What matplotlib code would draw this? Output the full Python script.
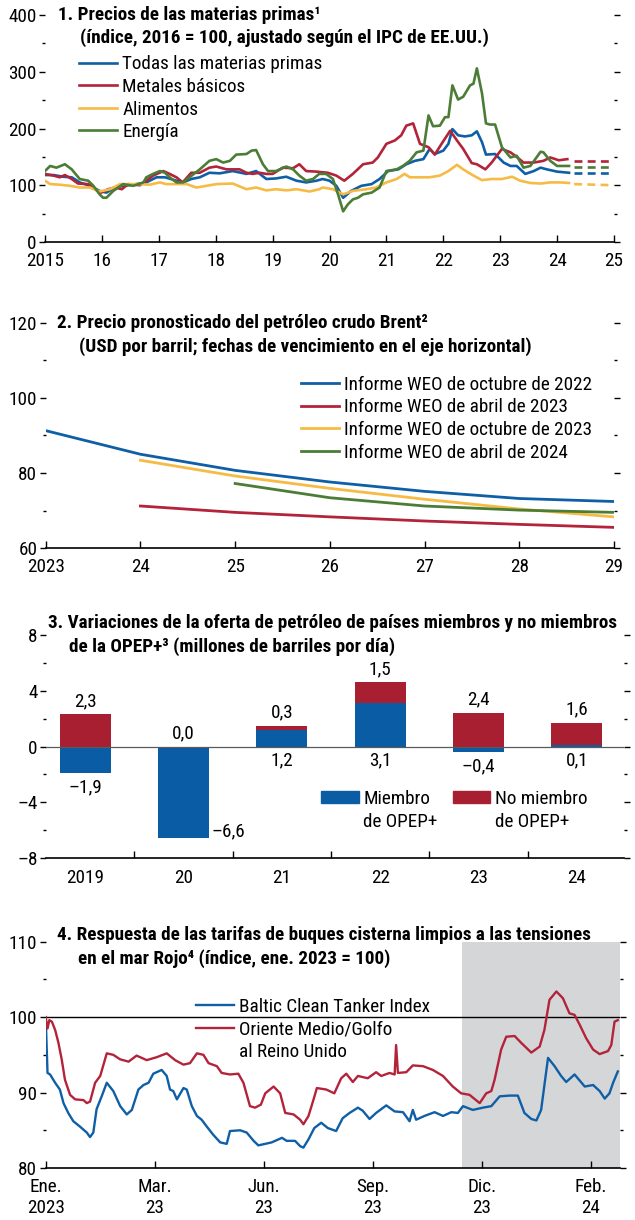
import matplotlib
matplotlib.use("Agg")
import matplotlib.pyplot as plt
from matplotlib import font_manager
from matplotlib.lines import Line2D
from matplotlib.patches import Rectangle

# ---- panel 1: commodity prices (index, 2016 = 100)
energy_x = [2015.0, 2015.09, 2015.2, 2015.35, 2015.47, 2015.61, 2015.76, 2015.85, 2015.96, 2016.02, 2016.08,
            2016.2, 2016.37, 2016.55, 2016.73, 2016.78, 2016.9, 2017.02, 2017.11, 2017.19, 2017.31, 2017.43,
            2017.54, 2017.72, 2017.89, 2018.01, 2018.13, 2018.25, 2018.36, 2018.54, 2018.63, 2018.71, 2018.83,
            2018.92, 2019.06, 2019.24, 2019.36, 2019.47, 2019.59, 2019.71, 2019.82, 2019.94, 2020.06, 2020.15,
            2020.24, 2020.32, 2020.41, 2020.5, 2020.59, 2020.74, 2020.88, 2021.0, 2021.18, 2021.29, 2021.41,
            2021.53, 2021.65, 2021.74, 2021.82, 2021.94, 2022.03, 2022.09, 2022.16, 2022.26, 2022.35, 2022.47,
            2022.53, 2022.59, 2022.68, 2022.75, 2022.82, 2022.91, 2023.03, 2023.18, 2023.29, 2023.41, 2023.53,
            2023.71, 2023.76, 2023.88, 2024.0, 2024.21]
energy = [125, 134, 131, 137, 128, 111, 108, 99, 84, 78, 78, 90, 102, 99, 105, 114, 120, 125, 122, 114, 105, 105,
          114, 128, 143, 146, 140, 143, 154, 155, 161, 162, 137, 125, 125, 133, 128, 117, 108, 111, 120, 120, 111,
          84, 54, 66, 75, 78, 84, 87, 96, 125, 128, 134, 143, 158, 161, 223, 204, 205, 220, 220, 276, 251, 256,
          276, 279, 306, 262, 209, 207, 207, 167, 149, 152, 131, 134, 159, 158, 143, 134, 134]

metals_x = [2015.0, 2015.15, 2015.26, 2015.35, 2015.47, 2015.58, 2015.76, 2015.88, 2015.99, 2016.11, 2016.23,
            2016.35, 2016.46, 2016.67, 2016.78, 2016.9, 2017.08, 2017.19, 2017.31, 2017.42, 2017.57, 2017.72,
            2017.89, 2018.01, 2018.19, 2018.42, 2018.54, 2018.65, 2018.77, 2018.89, 2019.0, 2019.18, 2019.36,
            2019.47, 2019.59, 2019.77, 2019.97, 2020.12, 2020.26, 2020.41, 2020.59, 2020.76, 2020.85, 2021.0,
            2021.15, 2021.26, 2021.35, 2021.47, 2021.59, 2021.74, 2021.85, 2021.97, 2022.12, 2022.24, 2022.35,
            2022.5, 2022.59, 2022.74, 2022.85, 2023.03, 2023.18, 2023.29, 2023.41, 2023.59, 2023.76, 2023.88,
            2024.03, 2024.18]
metals = [120, 117, 114, 118, 111, 103, 102, 93, 87, 93, 96, 93, 102, 100, 108, 117, 125, 120, 114, 105, 122, 122,
          131, 133, 128, 128, 122, 120, 122, 120, 120, 131, 130, 137, 125, 124, 122, 117, 108, 120, 137, 140, 149,
          173, 179, 188, 205, 209, 173, 167, 154, 173, 196, 179, 164, 139, 137, 128, 140, 164, 158, 150, 140, 140,
          143, 149, 144, 146]

all_x = [2015.0, 2015.15, 2015.32, 2015.47, 2015.61, 2015.79, 2015.96, 2016.08, 2016.23, 2016.37, 2016.55,
         2016.78, 2016.96, 2017.11, 2017.31, 2017.43, 2017.57, 2017.72, 2017.89, 2018.07, 2018.3, 2018.54,
         2018.71, 2018.89, 2019.06, 2019.24, 2019.42, 2019.59, 2019.77, 2019.88, 2020.0, 2020.12, 2020.24,
         2020.38, 2020.56, 2020.74, 2020.88, 2021.03, 2021.21, 2021.35, 2021.5, 2021.65, 2021.76, 2021.85,
         2022.0, 2022.09, 2022.16, 2022.26, 2022.38, 2022.5, 2022.59, 2022.68, 2022.75, 2022.91, 2023.06,
         2023.18, 2023.29, 2023.44, 2023.59, 2023.71, 2023.82, 2024.0, 2024.21]
all_comm = [118, 118, 115, 114, 105, 99, 90, 87, 96, 99, 101, 105, 114, 114, 108, 105, 111, 114, 122, 121, 125, 120,
            125, 111, 112, 115, 108, 105, 108, 111, 108, 99, 78, 90, 99, 102, 111, 125, 128, 137, 143, 146, 164,
            155, 161, 173, 199, 188, 186, 188, 195, 176, 154, 155, 140, 134, 134, 120, 125, 131, 128, 124, 122]

food_x = [2015.0, 2015.09, 2015.26, 2015.44, 2015.61, 2015.79, 2015.96, 2016.14, 2016.32, 2016.49, 2016.67,
          2016.84, 2017.02, 2017.13, 2017.31, 2017.49, 2017.66, 2017.84, 2018.01, 2018.3, 2018.54, 2018.71,
          2018.89, 2019.06, 2019.24, 2019.42, 2019.65, 2019.82, 2019.88, 2020.06, 2020.24, 2020.41, 2020.65,
          2020.82, 2021.0, 2021.18, 2021.32, 2021.41, 2021.59, 2021.76, 2021.94, 2022.09, 2022.24, 2022.35,
          2022.53, 2022.68, 2022.85, 2023.03, 2023.21, 2023.35, 2023.53, 2023.71, 2023.88, 2024.06, 2024.21]
food = [108, 102, 101, 99, 96, 96, 89, 93, 102, 102, 102, 101, 105, 102, 102, 102, 96, 99, 102, 103, 93, 96, 91, 93,
        91, 93, 89, 93, 96, 93, 84, 90, 93, 96, 105, 111, 120, 114, 114, 114, 117, 125, 136, 128, 117, 109, 111, 111,
        115, 108, 104, 103, 105, 105, 104]

proj_x = [2024.3, 2025.0]
all_proj = [122, 122]
metals_proj = [143, 143]
food_proj = [102, 100]
energy_proj = [133, 133]

p1_years = [2015, 2016, 2017, 2018, 2019, 2020, 2021, 2022, 2023, 2024, 2025]
p1_labels = ["2015", "16", "17", "18", "19", "20", "21", "22", "23", "24", "25"]

# ---- panel 2: Brent futures curves (USD per barrel)
brent_years = [2023, 2024, 2025, 2026, 2027, 2028, 2029]
weo_oct22 = [91.3, 85.0, 80.7, 77.6, 75.1, 73.2, 72.4]
weo_apr23 = [None, 71.2, 69.5, 68.3, 67.2, 66.3, 65.5]
weo_oct23 = [None, 83.4, 79.2, 75.9, 73.0, 70.4, 68.3]
weo_apr24 = [None, None, 77.2, 73.4, 71.2, 70.1, 69.5]
p2_labels = ["2023", "24", "25", "26", "27", "28", "29"]

# ---- panel 3: oil supply changes (million barrels per day)
supply_years = ["2019", "20", "21", "22", "23", "24"]
opec_member = [-1.9, -6.6, 1.2, 3.1, -0.4, 0.1]
opec_non_member = [2.3, 0.0, 0.3, 1.5, 2.4, 1.6]

# ---- panel 4: clean tanker rates (index, Jan 2023 = 100), x in months from Jan 2023
gulf_uk_m = [0.0, 0.05, 0.10, 0.17, 0.26, 0.35, 0.44, 0.53, 0.67, 0.81, 1.04, 1.13, 1.22, 1.36, 1.50, 1.68, 1.86,
             2.05, 2.28, 2.50, 2.78, 3.06, 3.33, 3.56, 3.79, 3.97, 4.16, 4.34, 4.48, 4.71, 4.84, 5.07, 5.30, 5.44,
             5.62, 5.76, 5.92, 6.04, 6.27, 6.45, 6.59, 6.82, 7.00, 7.09, 7.23, 7.37, 7.46, 7.72, 7.94, 8.13, 8.27,
             8.45, 8.59, 8.86, 9.09, 9.23, 9.46, 9.60, 9.64, 9.69, 9.92, 10.10, 10.38, 10.65, 10.93, 11.20, 11.43,
             11.66, 11.94, 12.12, 12.26, 12.35, 12.53, 12.67, 12.90, 13.08, 13.36, 13.59, 13.72, 13.86, 14.05,
             14.23, 14.41, 14.55, 14.69, 14.87, 15.06, 15.24, 15.47, 15.56, 15.65, 15.74]
gulf_uk = [100.0, 98.5, 99.6, 99.4, 98.3, 96.6, 94.4, 91.7, 89.7, 89.1, 89.0, 88.6, 88.8, 91.3, 92.2, 95.2, 95.0,
           94.4, 94.1, 94.9, 94.3, 94.7, 95.2, 94.3, 93.7, 93.9, 95.2, 95.0, 93.9, 93.5, 92.6, 92.4, 92.5, 91.3,
           88.2, 88.0, 88.4, 89.9, 90.8, 89.9, 87.3, 87.1, 86.4, 85.8, 86.9, 89.1, 90.6, 90.4, 89.9, 91.9, 92.5,
           91.4, 92.2, 91.9, 92.7, 92.2, 92.6, 92.4, 96.3, 92.6, 92.7, 93.6, 93.5, 93.0, 92.2, 90.8, 89.9, 89.7,
           88.6, 89.9, 90.2, 91.7, 95.7, 97.4, 97.5, 96.6, 95.3, 96.1, 98.3, 102.3, 103.4, 102.5, 100.5, 100.3,
           99.0, 97.2, 95.7, 95.1, 95.5, 96.3, 99.4, 99.6]

baltic_m = [0.0, 0.05, 0.12, 0.26, 0.39, 0.49, 0.62, 0.76, 0.94, 1.13, 1.22, 1.31, 1.40, 1.54, 1.68, 1.86, 2.05,
            2.23, 2.37, 2.55, 2.69, 2.83, 2.96, 3.19, 3.33, 3.42, 3.51, 3.61, 3.79, 3.88, 4.02, 4.16, 4.29, 4.43,
            4.61, 4.80, 4.98, 5.07, 5.35, 5.53, 5.72, 5.85, 6.04, 6.22, 6.50, 6.63, 6.86, 7.00, 7.09, 7.23, 7.39,
            7.58, 7.76, 7.99, 8.17, 8.36, 8.59, 8.72, 8.91, 9.09, 9.37, 9.60, 9.83, 10.01, 10.10, 10.19, 10.42,
            10.70, 10.93, 11.16, 11.34, 11.48, 11.75, 12.03, 12.26, 12.49, 12.76, 12.99, 13.17, 13.36, 13.50,
            13.63, 13.82, 14.00, 14.18, 14.32, 14.55, 14.83, 15.06, 15.24, 15.38, 15.51, 15.61, 15.74]
baltic = [100.0, 92.6, 92.4, 91.3, 90.4, 88.6, 87.3, 86.2, 85.5, 84.7, 84.1, 84.7, 87.8, 89.5, 91.3, 90.2, 88.2,
          87.1, 87.7, 90.4, 91.0, 91.3, 92.5, 93.0, 92.2, 90.4, 90.2, 89.1, 90.6, 90.4, 88.2, 86.9, 86.4, 85.5,
          84.4, 83.4, 83.2, 84.9, 85.0, 84.7, 83.6, 83.0, 83.2, 83.4, 84.0, 83.6, 83.6, 82.9, 82.7, 83.8, 85.3,
          86.0, 85.3, 84.9, 86.6, 87.3, 88.0, 87.6, 86.5, 87.3, 88.3, 87.5, 87.4, 86.2, 87.7, 86.4, 86.9, 87.4,
          86.9, 87.4, 87.3, 88.2, 87.7, 88.0, 88.2, 89.5, 89.6, 89.6, 87.3, 86.5, 86.3, 87.7, 94.6, 93.5, 92.2,
          91.4, 92.4, 90.8, 91.0, 90.2, 89.2, 89.9, 91.3, 92.8]

p4_ticks = [0, 3, 6, 9, 12, 15]
p4_labels = ["Ene.\n2023", "Mar.\n23", "Jun.\n23", "Sep.\n23", "Dic.\n23", "Feb.\n24"]
red_sea_start = 11.45
p4_end = 15.8

BLUE = "#0f5fa6"
RED = "#b3233a"
YELLOW = "#f6bb45"
GREEN = "#4b7d36"
BAR_BLUE = "#0a5ca5"
BAR_RED = "#a81f32"
FS = 13.8


def pick_font():
    names = {f.name for f in font_manager.fontManager.ttflist}
    for cand in ["Liberation Sans Narrow", "DejaVu Sans Condensed", "Roboto Condensed", "Open Sans Condensed"]:
        if cand in names:
            return cand
    return "Liberation Sans"


def frame(ax, ymaj, ymin, xpad=6):
    for side in ("left", "right", "top"):
        ax.spines[side].set_visible(False)
    ax.spines["bottom"].set_linewidth(1.2)
    ax.set_yticks(ymaj)
    ax.set_yticks(ymin, minor=True)
    ax.tick_params(axis="y", which="major", direction="out", length=4, width=1, pad=2,
                   left=True, right=True, labelsize=FS)
    ax.tick_params(axis="y", which="minor", direction="out", length=2.5, width=1, left=True, right=True)
    ax.tick_params(axis="x", which="both", direction="in", length=5, width=1, labelsize=FS, pad=xpad)


def title(ax, line1, line2, x1, x2, y1, y2):
    ax.text(x1, y1, line1, transform=ax.transAxes, fontsize=FS, fontweight="bold", va="center", ha="left")
    ax.text(x2, y2, line2, transform=ax.transAxes, fontsize=FS, fontweight="bold", va="center", ha="left")


def legend_kw():
    return dict(frameon=False, fontsize=FS, borderpad=0, handlelength=2.0, handletextpad=0.25,
                labelspacing=0.24, borderaxespad=0)


def main():
    font = pick_font()
    plt.rcParams["font.family"] = [font, "DejaVu Sans"]
    plt.rcParams["axes.unicode_minus"] = False

    fig = plt.figure(figsize=(6.35, 12.2), dpi=100)
    W, H = 635, 1220

    def box(x0, x1, y0, y1):
        return [x0 / W, (H - y1) / H, (x1 - x0) / W, (y1 - y0) / H]

    # panel 1
    ax1 = fig.add_axes(box(45, 614, 15, 242))
    ax1.plot(all_x, all_comm, color=BLUE, lw=1.9, label="Todas las materias primas")
    ax1.plot(metals_x, metals, color=RED, lw=1.9, label="Metales básicos")
    ax1.plot(food_x, food, color=YELLOW, lw=1.9, label="Alimentos")
    ax1.plot(energy_x, energy, color=GREEN, lw=1.9, label="Energía")
    for vals, c in [(metals_proj, RED), (energy_proj, GREEN), (all_proj, BLUE), (food_proj, YELLOW)]:
        ax1.plot(proj_x, vals, color=c, lw=1.9, ls=(0, (3, 2)))
    ax1.set_xlim(2015, 2025)
    ax1.set_ylim(0, 400)
    frame(ax1, [0, 100, 200, 300, 400], [50, 150, 250, 350], xpad=7.5)
    ax1.set_xticks(p1_years)
    ax1.set_xticklabels(p1_labels)
    ax1.legend(loc="upper left", bbox_to_anchor=(0.06, 0.822), **legend_kw())
    title(ax1, "1. Precios de las materias primas¹",
          "(índice, 2016 = 100, ajustado según el IPC de EE.UU.)", 0.022, 0.061, 1.0, 0.9)

    # panel 2
    ax2 = fig.add_axes(box(45.7, 614, 323, 548))
    ax2.plot(brent_years, weo_oct22, color=BLUE, lw=2, label="Informe WEO de octubre de 2022")
    ax2.plot(brent_years, weo_apr23, color=RED, lw=2, label="Informe WEO de abril de 2023")
    ax2.plot(brent_years, weo_oct23, color=YELLOW, lw=2, label="Informe WEO de octubre de 2023")
    ax2.plot(brent_years, weo_apr24, color=GREEN, lw=2, label="Informe WEO de abril de 2024")
    ax2.set_xlim(2023, 2029)
    ax2.set_ylim(60, 120)
    frame(ax2, [60, 80, 100, 120], [70, 90, 110], xpad=7.5)
    ax2.set_xticks(brent_years)
    ax2.set_xticklabels(p2_labels)
    ax2.legend(loc="upper left", bbox_to_anchor=(0.449, 0.765), **legend_kw())
    title(ax2, "2. Precio pronosticado del petróleo crudo Brent²",
          "(USD por barril; fechas de vencimiento en el eje horizontal)", 0.02, 0.059, 1.0, 0.893)

    # panel 3
    ax3 = fig.add_axes(box(46, 624, 635, 858))
    xs = list(range(len(supply_years)))
    red_base = [max(m, 0) for m in opec_member]
    ax3.bar(xs, opec_member, width=0.52, color=BAR_BLUE, zorder=2)
    ax3.bar(xs, opec_non_member, width=0.52, bottom=red_base, color=BAR_RED, zorder=2)
    ax3.axhline(0, color="#5a5a5a", lw=0.9, zorder=3)
    for i in xs:
        top = red_base[i] + opec_non_member[i]
        ax3.annotate(f"{opec_non_member[i]:.1f}".replace(".", ",").replace("-", "–"), (i, top),
                     xytext=(0, 9.5), textcoords="offset points", ha="center", va="center", fontsize=FS)
        lab = f"{opec_member[i]:.1f}".replace(".", ",").replace("-", "–")
        if opec_member[i] < -5:
            ax3.annotate(lab, (i + 0.26, opec_member[i]), xytext=(2, 5), textcoords="offset points",
                         ha="left", va="center", fontsize=FS)
        else:
            ax3.annotate(lab, (i, min(opec_member[i], 0)), xytext=(0, -10), textcoords="offset points",
                         ha="center", va="center", fontsize=FS)
    ax3.set_xlim(-0.4, 5.48)
    ax3.set_ylim(-8, 8)
    frame(ax3, [-8, -4, 0, 4, 8], [-6, -2, 2, 6])
    ax3.set_yticklabels(["–8", "–4", "0", "4", "8"])
    ax3.set_xticks(xs)
    ax3.set_xticklabels(supply_years)
    ax3.set_xticks([i + 0.5 for i in xs[:-1]], minor=True)
    ax3.tick_params(axis="x", which="major", length=0, pad=8)
    blank = Rectangle((0, 0), 1, 1, fc="none", ec="none", lw=0)
    handles = [Rectangle((0, 0), 1, 1, color=BAR_BLUE), blank, Rectangle((0, 0), 1, 1, color=BAR_RED), blank]
    kw = legend_kw()
    kw.update(handlelength=1.95, handleheight=0.55, columnspacing=0.8)
    ax3.legend(handles, ["Miembro", "de OPEP+", "No miembro", "de OPEP+"], ncol=2, loc="upper left",
               bbox_to_anchor=(0.476, 0.305), **kw)
    title(ax3, "3. Variaciones de la oferta de petróleo de países miembros y no miembros",
          "de la OPEP+³ (millones de barriles por día)", 0.004, 0.04, 1.055, 0.95)

    # panel 4
    ax4 = fig.add_axes(box(45.7, 620, 941.7, 1168))
    ax4.axvspan(red_sea_start, p4_end, color="#d5d6d8", lw=0, zorder=0)
    ax4.axhline(100, color="black", lw=1, zorder=1)
    ax4.plot(baltic_m, baltic, color=BLUE, lw=1.7, label="Baltic Clean Tanker Index", zorder=2)
    ax4.plot(gulf_uk_m, gulf_uk, color=RED, lw=1.7, label="Oriente Medio/Golfo", zorder=2)
    ax4.set_xlim(0, p4_end)
    ax4.set_ylim(80, 110)
    frame(ax4, [80, 90, 100, 110], [85, 95, 105], xpad=7)
    ax4.set_xticks(p4_ticks)
    ax4.set_xticklabels(p4_labels, linespacing=1.2)
    h, l = ax4.get_legend_handles_labels()
    h.append(Line2D([], [], color="none"))
    l.append("al Reino Unido")
    ax4.legend(h, l, loc="upper left", bbox_to_anchor=(0.262, 0.752), **legend_kw())
    title(ax4, "4. Respuesta de las tarifas de buques cisterna limpios a las tensiones",
          "en el mar Rojo⁴ (índice, ene. 2023 = 100)", 0.02, 0.056, 1.03, 0.925)

    fig.savefig("out.png", dpi=100)
    plt.close(fig)


if __name__ == "__main__":
    main()
